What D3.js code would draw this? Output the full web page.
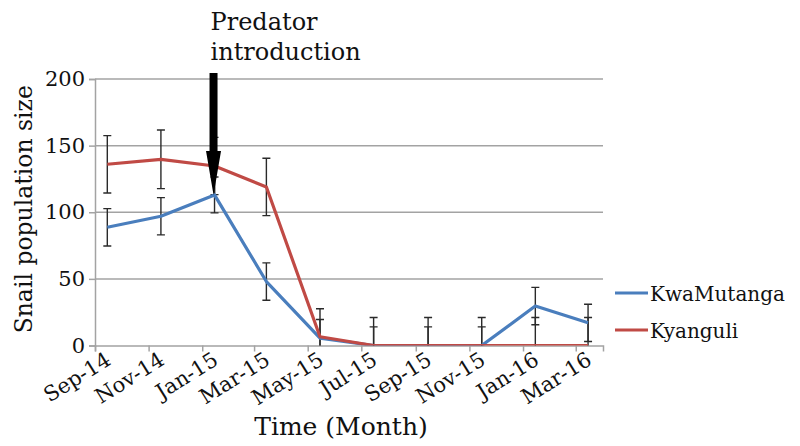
<!DOCTYPE html>
<html>
<head>
<meta charset="utf-8">
<script src="https://cdn.jsdelivr.net/npm/d3@7"></script>
<style>
  body { margin: 0; background: #fff; }
</style>
</head>
<body>
<svg id="chart" width="800" height="446" font-family="DejaVu Serif"></svg>
<script>
// sampling months (Excel date axis, points sit mid-month)
var categories = ['Sep-14', 'Nov-14', 'Jan-15', 'Mar-15', 'May-15', 'Jul-15', 'Sep-15', 'Nov-15', 'Jan-16', 'Mar-16'];
var kwaMutanga = [88.7, 97, 113, 48, 5.5, 0, 0, 0, 29.6, 17];
var kwaMutangaErr = [14, 14, 13.5, 14, 14, 14, 14, 14, 14, 14];
var kyanguli = [136, 139.7, 134.7, 119, 6.6, 0, 0, 0, 0, 0];
var kyanguliErr = [21.5, 22, 21.5, 21.5, 21, 21, 21, 21, 21, 21];
var yTicks = [0, 50, 100, 150, 200];
var seriesNames = ['KwaMutanga', 'Kyanguli'];
var seriesColors = ['#4a7ebd', '#c04a45'];
var FONT = 'DejaVu Serif';

var svg = d3.select('#chart');
var parseMonth = d3.timeParse('%b-%y');
var dates = categories.map(function (c) { return d3.timeDay.offset(parseMonth(c), 14); });

var margin = { left: 95, right: 197, top: 79, bottom: 100.5 };
var width = 800 - margin.left - margin.right;
var height = 446 - margin.top - margin.bottom;

var x = d3.scaleTime()
  .domain([new Date(2014, 8, 1), new Date(2016, 3, 1)])
  .range([0, width]);
var y = d3.scaleLinear().domain([0, 200]).range([height, 0]);

var g = svg.append('g').attr('transform', 'translate(' + margin.left + ',' + margin.top + ')');

g.append('clipPath').attr('id', 'plot-clip')
  .append('rect').attr('x', -10).attr('y', -2).attr('width', width + 20).attr('height', height + 2);

// gridlines
g.append('g').selectAll('line').data(yTicks.slice(1)).enter().append('line')
  .attr('x1', 0).attr('x2', width)
  .attr('y1', function (d) { return y(d); }).attr('y2', function (d) { return y(d); })
  .attr('stroke', '#a3a3a3').attr('stroke-width', 1.5);

// y axis
var yAxis = g.append('g')
  .call(d3.axisLeft(y).tickValues(yTicks).tickSize(6).tickPadding(4).tickFormat(d3.format('d')));
yAxis.attr('font-family', FONT);
yAxis.select('.domain').attr('stroke', '#a3a3a3').attr('stroke-width', 1.5);
yAxis.selectAll('.tick line').attr('stroke', '#a3a3a3').attr('stroke-width', 1.5);
yAxis.selectAll('.tick text').attr('font-size', 21).attr('font-family', FONT).attr('fill', '#111');

// x axis (ticks every two months, labels at the sampled points)
var xAxis = g.append('g').attr('transform', 'translate(0,' + height + ')')
  .call(d3.axisBottom(x).ticks(d3.timeMonth.every(2)).tickSize(6).tickFormat(''));
xAxis.select('.domain').attr('stroke', '#a3a3a3').attr('stroke-width', 1.5);
xAxis.selectAll('.tick line').attr('stroke', '#a3a3a3').attr('stroke-width', 1.5);

g.append('g').selectAll('text').data(categories).enter().append('text')
  .attr('transform', function (d, i) { return 'translate(' + (x(dates[i]) + 5) + ',' + (height + 18) + ')rotate(-32)'; })
  .attr('text-anchor', 'end')
  .attr('font-family', FONT)
  .attr('font-size', 21)
  .attr('fill', '#111')
  .text(function (d) { return d; });

// error bars + lines
var series = [
  { values: kwaMutanga, err: kwaMutangaErr },
  { values: kyanguli, err: kyanguliErr }
];
var line = d3.line()
  .x(function (d, i) { return x(dates[i]); })
  .y(function (d) { return y(d); });

var plot = g.append('g').attr('clip-path', 'url(#plot-clip)');
series.forEach(function (s, k) {
  var eb = plot.append('g').attr('stroke', '#2a2a2a').attr('stroke-width', 1.4);
  s.values.forEach(function (v, i) {
    var cx = x(dates[i]);
    var hi = y(v + s.err[i]);
    var lo = y(v - s.err[i]);
    eb.append('line').attr('x1', cx).attr('x2', cx).attr('y1', hi).attr('y2', lo);
    eb.append('line').attr('x1', cx - 4).attr('x2', cx + 4).attr('y1', hi).attr('y2', hi);
    eb.append('line').attr('x1', cx - 4).attr('x2', cx + 4).attr('y1', lo).attr('y2', lo);
  });
});
series.forEach(function (s, k) {
  plot.append('path').datum(s.values)
    .attr('d', line)
    .attr('fill', 'none')
    .attr('stroke', seriesColors[k])
    .attr('stroke-width', 3.2)
    .attr('stroke-linejoin', 'round');
});

// predator introduction arrow, pointing at Jan-15
var ax = x(dates[2]) - 1;
var tipY = y(kwaMutanga[2]);
var topY = y(200) - 6;
var headY = tipY - 44;
g.append('path')
  .attr('d', 'M' + (ax - 4) + ',' + topY + 'L' + (ax + 4) + ',' + topY + 'L' + (ax + 4) + ',' + headY +
    'L' + (ax + 7.5) + ',' + headY + 'L' + ax + ',' + tipY + 'L' + (ax - 7.5) + ',' + headY +
    'L' + (ax - 4) + ',' + headY + 'Z')
  .attr('fill', '#000');

var note = svg.append('text').attr('font-family', FONT).attr('font-size', 24).attr('fill', '#111');
note.append('tspan').attr('x', margin.left + ax - 3).attr('y', 30).text('Predator');
note.append('tspan').attr('x', margin.left + ax - 3).attr('y', 60).text('introduction');

// axis titles
svg.append('text')
  .attr('transform', 'translate(32,' + (margin.top + height / 2 - 3) + ')rotate(-90)')
  .attr('text-anchor', 'middle')
  .attr('font-family', FONT)
  .attr('font-size', 23.5)
  .attr('fill', '#111')
  .text('Snail population size');

svg.append('text')
  .attr('x', 341).attr('y', 435)
  .attr('text-anchor', 'middle')
  .attr('font-family', FONT)
  .attr('font-size', 25)
  .attr('fill', '#111')
  .text('Time (Month)');

// legend
var legend = svg.append('g').attr('transform', 'translate(615,293)');
seriesNames.forEach(function (name, k) {
  var row = legend.append('g').attr('transform', 'translate(0,' + (k * 37) + ')');
  row.append('line').attr('x1', 0).attr('x2', 33).attr('y1', 0).attr('y2', 0)
    .attr('stroke', seriesColors[k]).attr('stroke-width', 3.2);
  row.append('text').attr('x', 35).attr('y', 8).attr('font-family', FONT)
    .attr('font-size', 20).attr('fill', '#111').text(name);
});
</script>
</body>
</html>
